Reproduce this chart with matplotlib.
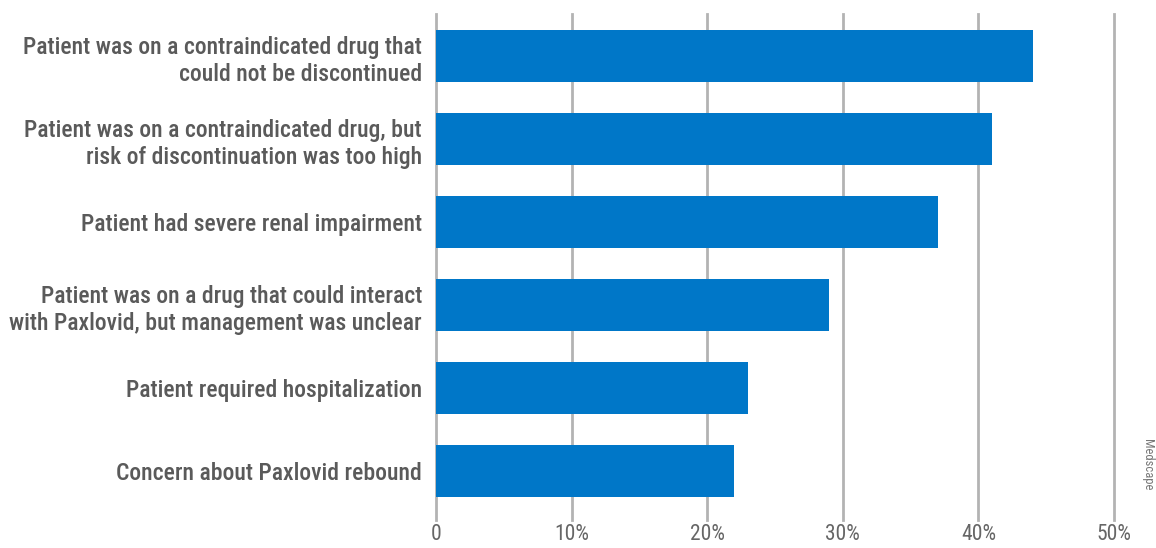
import matplotlib
matplotlib.use("Agg")
import matplotlib.pyplot as plt

labels = [
    "Patient was on a contraindicated drug that\ncould not be discontinued",
    "Patient was on a contraindicated drug, but\nrisk of discontinuation was too high",
    "Patient had severe renal impairment",
    "Patient was on a drug that could interact\nwith Paxlovid, but management was unclear",
    "Patient required hospitalization",
    "Concern about Paxlovid rebound",
]
values = [44, 41, 37, 29, 23, 22]
ticks = [0, 10, 20, 30, 40, 50]
tick_labels = ["0", "10%", "20%", "30%", "40%", "50%"]

plt.rcParams['font.family'] = ['Roboto Condensed', 'Archivo Narrow', 'DejaVu Sans']

fig = plt.figure(figsize=(11.56, 5.48), dpi=100)
ax = fig.add_axes([436 / 1156, 28 / 548, (1114 - 436) / 1156, (520 - 14) / 548])

ypos = list(range(len(values)))
ax.barh(ypos, values, height=0.63, color="#0077c8", zorder=3)

# grid lines drawn by hand so they run past the axes
for t in ticks:
    ax.axvline(t, color="#b3b3b3", lw=2, zorder=1, clip_on=False)

ax.set_xlim(0, 50)
ax.set_ylim(5.59, -0.506)
ax.set_yticks(ypos)
ax.set_yticklabels(labels, fontsize=17, color="#5a5a5a", ha="right",
                   linespacing=1.25, fontweight="medium")
ax.set_xticks(ticks)
ax.set_xticklabels(tick_labels, fontsize=15.5, color="#666666")
ax.tick_params(length=0, pad=10, axis="y")
ax.tick_params(length=0, pad=3, axis="x")
for s in ax.spines.values():
    s.set_visible(False)

fig.text(1147 / 1156, 1 - 465 / 548, "Medscape", rotation=-90, fontsize=9,
         color="#777777", ha="center", va="center")

fig.savefig("out.png", dpi=100)
